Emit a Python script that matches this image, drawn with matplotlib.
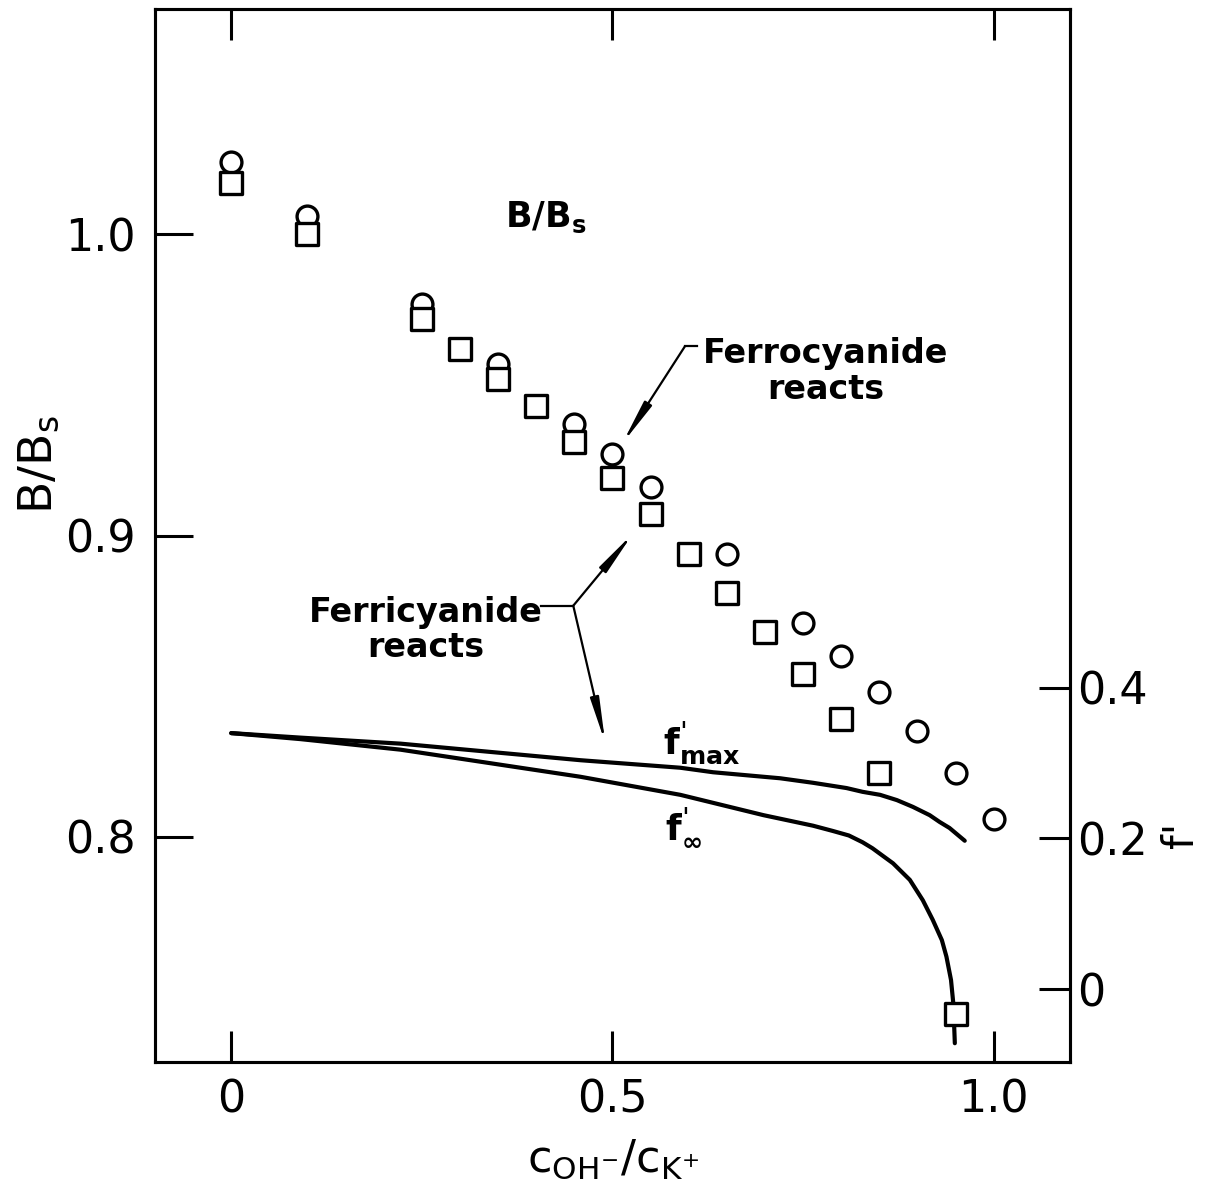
import matplotlib
matplotlib.use('Agg')
import matplotlib.pyplot as plt
from matplotlib.markers import MarkerStyle

plt.rcParams['font.family'] = ['DejaVu Sans']
plt.rcParams['mathtext.default'] = 'regular'

# B/Bs, circles (ferrocyanide) and squares (ferricyanide)
circ_x = [0.0, 0.1, 0.25, 0.35, 0.45, 0.5, 0.55, 0.65, 0.75, 0.8, 0.85, 0.9, 0.95, 1.0]
circ_y = [1.024, 1.006, 0.977, 0.957, 0.937, 0.927, 0.916, 0.894, 0.871, 0.860, 0.848, 0.835, 0.821, 0.806]
sq_x = [0.0, 0.1, 0.25, 0.3, 0.35, 0.4, 0.45, 0.5, 0.55, 0.6, 0.65, 0.7, 0.75, 0.8, 0.85, 0.95]
sq_y = [1.017, 1.000, 0.972, 0.962, 0.952, 0.943, 0.931, 0.919, 0.907, 0.894, 0.881, 0.868, 0.854, 0.839, 0.821, 0.741]

# f' curves (right axis)
fmax_x = [0.0, 0.091, 0.222, 0.458, 0.589, 0.632, 0.720, 0.763, 0.807, 0.828, 0.851, 0.873, 0.894, 0.916, 0.929, 0.942, 0.962]
fmax_y = [0.340, 0.334, 0.326, 0.304, 0.294, 0.288, 0.280, 0.274, 0.267, 0.262, 0.258, 0.251, 0.242, 0.231, 0.222, 0.214, 0.197]
finf_x = [0.0, 0.091, 0.222, 0.458, 0.589, 0.698, 0.763, 0.789, 0.810, 0.828, 0.841, 0.868, 0.890, 0.907, 0.920, 0.932, 0.938, 0.944, 0.947, 0.949]
finf_y = [0.340, 0.332, 0.318, 0.282, 0.258, 0.231, 0.217, 0.210, 0.204, 0.195, 0.187, 0.167, 0.145, 0.118, 0.092, 0.065, 0.043, 0.012, -0.019, -0.072]

x_ticks = [0, 0.5, 1.0]
x_labels = ['0', '0.5', '1.0']
y_ticks = [0.8, 0.9, 1.0]
y_labels = ['0.8', '0.9', '1.0']
f_ticks = [0, 0.2, 0.4]
f_labels = ['0', '0.2', '0.4']

fig = plt.figure(figsize=(12.06, 11.84), dpi=100)
ax = fig.add_axes([0.1285, 0.103, 0.7587, 0.8894])
ax2 = ax.twinx()

ax.set_xlim(-0.1, 1.1)
ax.set_ylim(0.7252, 1.0748)
ax2.set_ylim(-0.097, 1.302)

ax2.plot(fmax_x, fmax_y, color='black', lw=3, solid_capstyle='round', solid_joinstyle='round', zorder=1)
ax2.plot(finf_x, finf_y, color='black', lw=3, solid_capstyle='round', solid_joinstyle='round', zorder=1)

ax.set_zorder(ax2.get_zorder() + 1)
ax.patch.set_visible(False)

circ = MarkerStyle('o')
sq = MarkerStyle('s', joinstyle='round')
ax.plot(circ_x, circ_y, ls='none', marker=circ, ms=15, mew=2.4,
        mec='black', mfc='none', zorder=3)
ax.plot(sq_x, sq_y, ls='none', marker=sq, ms=16, mew=2.4,
        mec='black', mfc='white', zorder=4)

ax.set_xticks(x_ticks)
ax.set_xticklabels(x_labels)
ax.set_yticks(y_ticks)
ax.set_yticklabels(y_labels)
ax2.set_yticks(f_ticks)
ax2.set_yticklabels(f_labels)

ax.tick_params(axis='x', direction='in', length=22, width=2.2, top=True,
               labeltop=False, pad=12, labelsize=32)
ax.tick_params(axis='y', direction='in', length=27, width=2.2, right=False,
               pad=14, labelsize=32)
ax2.tick_params(axis='y', direction='in', length=22, width=2.2, pad=5, labelsize=32)

for a in (ax, ax2):
    for s in a.spines.values():
        s.set_linewidth(2.2)

ax.set_xlabel(r'$c_{OH^{-}}/c_{K^{+}}$', fontsize=32)
ax.xaxis.set_label_coords(0.5, -0.072)
ax.set_ylabel(r'$B/B_{s}$', fontsize=34)
ax.yaxis.set_label_coords(-0.102, 0.567)
ax2.set_ylabel("f'", fontsize=30, rotation=90)
ax2.yaxis.set_label_coords(1.098, 0.2156)

# labels inside the plot
ax.text(0.3595, 1.0023, r'$B/B_{s}$', fontsize=25, fontweight='bold', va='baseline')
ax.text(0.566, 0.8276, '$f^{\u02c8}_{max}$', fontsize=26, fontweight='bold', va='baseline')
ax.text(0.569, 0.7993, '$f^{\u02c8}_{\u221e}$', fontsize=26, fontweight='bold', va='baseline')

ax.text(0.619, 0.9658, 'Ferrocyanide\nreacts', fontsize=24, fontweight='bold',
        ha='left', va='top', multialignment='center', linespacing=1.1)
ax.text(0.1015, 0.880, 'Ferricyanide\nreacts', fontsize=24, fontweight='bold',
        ha='left', va='top', multialignment='center', linespacing=1.1)

arrow_kw = dict(arrowstyle='-|>,head_length=1.0,head_width=0.1', color='black',
                lw=1.6, shrinkA=0, shrinkB=0, mutation_scale=26)

ax.plot([0.611, 0.595], [0.9628, 0.9628], color='black', lw=1.6)
ax.annotate('', xy=(0.513, 0.9306), xytext=(0.595, 0.9628), arrowprops=arrow_kw)

ax.plot([0.406, 0.4486], [0.8767, 0.8767], color='black', lw=1.6)
ax.annotate('', xy=(0.527, 0.9007), xytext=(0.4486, 0.8767), arrowprops=arrow_kw)
ax.annotate('', xy=(0.4905, 0.8312), xytext=(0.4486, 0.8767), arrowprops=arrow_kw)

fig.savefig('out.png', dpi=100)
